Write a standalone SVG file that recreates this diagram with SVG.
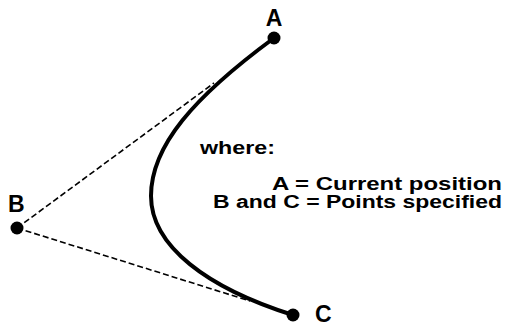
<svg xmlns="http://www.w3.org/2000/svg" width="505" height="327" viewBox="0 0 505 327">
<style>
.lbl{font-family:"Liberation Sans",Arial,sans-serif;font-weight:bold;fill:#000}
.dash{stroke:#000;stroke-width:1.6;stroke-dasharray:6 3;fill:none}
.curve{stroke:#000;stroke-width:4;fill:none;stroke-linecap:round;stroke-linejoin:round}
</style>
<rect width="505" height="327" fill="#fff"/>
<g id="connectors">
<line class="dash" x1="17" y1="228" x2="214" y2="83"/>
<line class="dash" x1="17" y1="228" x2="250" y2="301"/>
<path class="curve" d="M274,38 C193.5,97.3 151,146 151,196 C151,246 207.1,287.9 293,315"/>
</g>
<g id="nodeA"><circle cx="274" cy="38" r="6.5"/><text class="lbl" x="274" y="26" font-size="23" text-anchor="middle">A</text></g>
<g id="nodeB"><circle cx="17" cy="228" r="6.5"/><text class="lbl" x="8" y="212" font-size="23">B</text></g>
<g id="nodeC"><circle cx="293" cy="315" r="6.5"/><text class="lbl" x="315" y="322" font-size="23">C</text></g>
<g id="legend">
<text class="lbl" x="200" y="154" font-size="18" textLength="75" lengthAdjust="spacingAndGlyphs">where:</text>
<text class="lbl" x="272" y="190" font-size="18" textLength="230" lengthAdjust="spacingAndGlyphs">A = Current position</text>
<text class="lbl" x="213" y="208" font-size="18" textLength="289" lengthAdjust="spacingAndGlyphs">B and C = Points specified</text>
</g>
</svg>
